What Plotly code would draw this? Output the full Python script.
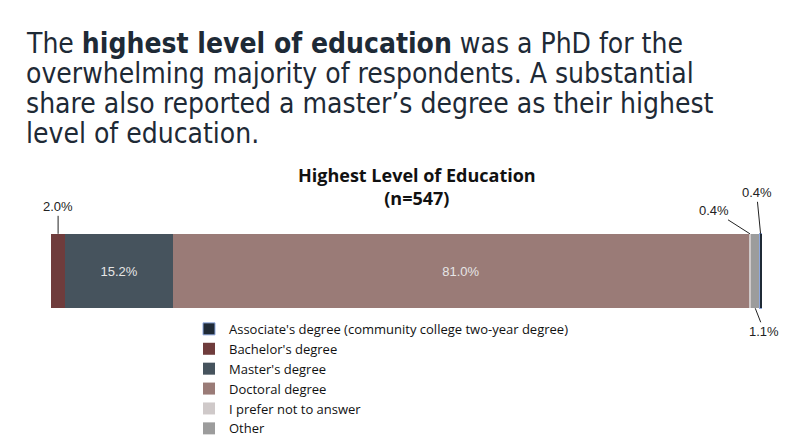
import plotly.graph_objects as go

# survey shares, in the order they are stacked on the bar
categories = ["Bachelor's degree", "Master's degree", "Doctoral degree",
              "I prefer not to answer", "Other", "Associate's degree (community college two-year degree)"]
shares = [2.0, 15.2, 81.0, 0.4, 1.1, 0.4]
legend_rank = [2, 3, 4, 5, 6, 1]
colors = ["#6f3c3c", "#46535d", "#9a7b77", "#cfc9c9", "#9c9c9c", "#1f2a36"]
line_colors = ["#6f3c3c", "#46535d", "#9a7b77", "#cfc9c9", "#9c9c9c", "#8ea8de"]
inside_labels = [False, True, True, False, False, False]

# label offsets (px) for the small segments: (ax, ay, at top?)
outside = {0: (0, -27, True), 3: (-36, -23, True), 5: (-4, -41, True), 4: (9, 23, False)}

W, H = 800, 444
L, R, T, B = 51, 38, 231, 0
PH = H - T - B


def py(px_y):
    # pixel row -> paper y
    return (H - B - px_y) / PH


def px(px_x):
    return (px_x - L) / (W - L - R)


fig = go.Figure()
for i, cat in enumerate(categories):
    fig.add_trace(go.Bar(
        y=[0], x=[shares[i]], name=cat, orientation="h",
        marker=dict(color=colors[i], line=dict(color=line_colors[i], width=1 if i == 5 else 0)),
        width=0.93,
        text=[f"{shares[i]:.1f}%"] if inside_labels[i] else None,
        textposition="inside", insidetextanchor="middle", textangle=0,
        textfont=dict(family="Liberation Sans, Arial", size=13, color="#e6e6e6"),
        legendrank=legend_rank[i],
    ))

# leader-line labels for the thin segments
cum = 0
for i, v in enumerate(shares):
    mid = cum + v / 2
    cum += v
    if i in outside:
        ax, ay, top = outside[i]
        fig.add_annotation(x=mid, y=0.465 if top else -0.465, yref="y", xref="x",
                           text=f"{v:.1f}%", showarrow=True, arrowhead=0, arrowwidth=1,
                           arrowcolor="#222", ax=ax, ay=ay,
                           font=dict(family="Liberation Sans, Arial", size=13, color="#222"))

# headline text
headline = ["The <b>highest level of education</b> was a PhD for the",
            "overwhelming majority of respondents. A substantial",
            "share also reported a master\u2019s degree as their highest",
            "level of education."]
for k, line in enumerate(headline):
    fig.add_annotation(xref="paper", yref="paper", x=px(24), y=py(34 + 31.5 * k),
                       xanchor="left", yanchor="middle", showarrow=False, text=line,
                       font=dict(family="Liberation Sans Narrow, DejaVu Sans Condensed, sans-serif",
                                 size=28, color="#1e2a36"))

fig.add_annotation(xref="paper", yref="paper", x=px(417), y=py(184),
                   xanchor="center", yanchor="middle", showarrow=False,
                   text="<b>Highest Level of Education</b><br><b>(n=547)</b>",
                   font=dict(family="Open Sans, sans-serif", size=18, color="#111"))

# bar occupies pixel rows 234..312 -> 84 px per y unit
fig.update_layout(
    width=W, height=H,
    barmode="stack",
    paper_bgcolor="white", plot_bgcolor="white",
    margin=dict(l=L, r=R, t=T, b=B),
    xaxis=dict(range=[0, sum(shares)], visible=False),
    yaxis=dict(range=[0.5 - PH / 84, 0.5], visible=False),
    showlegend=True,
    legend=dict(x=px(189), y=py(318), xanchor="left", yanchor="top", traceorder="normal",
                font=dict(family="Open Sans, sans-serif", size=13, color="#111"),
                bgcolor="rgba(0,0,0,0)", itemwidth=30, borderwidth=0),
)

# drop the browser's default body margin so the figure sits at the page corner
fig.write_html("out.html", config={"displayModeBar": False},
               post_script="document.body.style.margin='0';")
